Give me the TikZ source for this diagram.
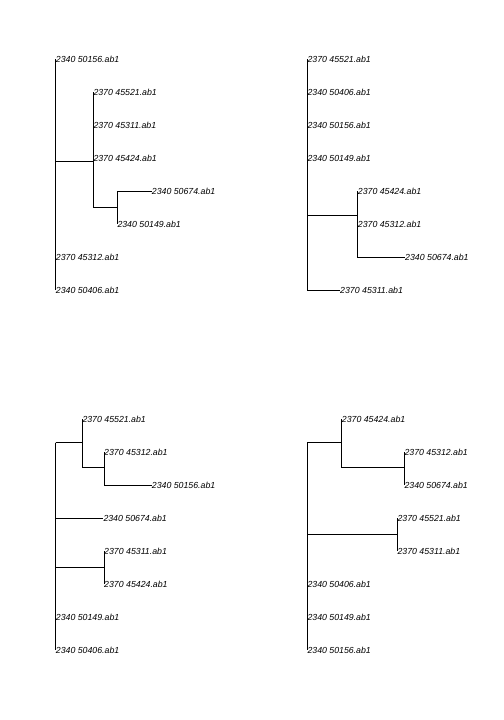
\documentclass[tikz,border=0pt]{standalone}
\usepackage{fontspec}
\setmainfont{Liberation Sans}
\begin{document}
\begin{tikzpicture}[x=1bp,y=-1bp,
  tip/.style={anchor=west, inner sep=0pt, font=\fontsize{8.8}{10}\selectfont\itshape},
  edge/.style={line width=0.7bp, black}]
\useasboundingbox (0,0) rectangle (504,720);

% ---------- tree 1 (top left) ----------
\coordinate (r1) at (55.7,161.7);
\coordinate (a1) at (93.3,161.7);
\coordinate (b1) at (117.3,207);
\node[tip] (t1a) at (55.7,59)  {2340 50156.ab1};
\node[tip] (t1b) at (93.3,92)  {2370 45521.ab1};
\node[tip] (t1c) at (93.3,125) {2370 45311.ab1};
\node[tip] (t1d) at (93.3,158) {2370 45424.ab1};
\node[tip] (t1e) at (151.7,191) {2340 50674.ab1};
\node[tip] (t1f) at (117.3,224) {2340 50149.ab1};
\node[tip] (t1g) at (55.7,257) {2370 45312.ab1};
\node[tip] (t1h) at (55.7,290) {2340 50406.ab1};
\draw[edge] (r1) |- (t1a.west);
\draw[edge] (r1) |- (t1g.west);
\draw[edge] (r1) |- (t1h.west);
\draw[edge] (r1) |- (a1);
\draw[edge] (a1) |- (t1b.west);
\draw[edge] (a1) |- (t1c.west);
\draw[edge] (a1) |- (t1d.west);
\draw[edge] (a1) |- (b1);
\draw[edge] (b1) |- (t1e.west);
\draw[edge] (b1) |- (t1f.west);

% ---------- tree 2 (top right) ----------
\coordinate (r2) at (307.3,215);
\coordinate (c2) at (357.7,215);
\node[tip] (t2a) at (307.3,59)  {2370 45521.ab1};
\node[tip] (t2b) at (307.3,92)  {2340 50406.ab1};
\node[tip] (t2c) at (307.3,125) {2340 50156.ab1};
\node[tip] (t2d) at (307.3,158) {2340 50149.ab1};
\node[tip] (t2e) at (357.7,191) {2370 45424.ab1};
\node[tip] (t2f) at (357.7,224) {2370 45312.ab1};
\node[tip] (t2g) at (405,257)   {2340 50674.ab1};
\node[tip] (t2h) at (340,290)   {2370 45311.ab1};
\draw[edge] (r2) |- (t2a.west);
\draw[edge] (r2) |- (t2b.west);
\draw[edge] (r2) |- (t2c.west);
\draw[edge] (r2) |- (t2d.west);
\draw[edge] (r2) |- (c2);
\draw[edge] (r2) |- (t2h.west);
\draw[edge] (c2) |- (t2e.west);
\draw[edge] (c2) |- (t2f.west);
\draw[edge] (c2) |- (t2g.west);

% ---------- tree 3 (bottom left) ----------
\coordinate (r3) at (55.7,442.7);
\coordinate (d3) at (82.3,442.7);
\coordinate (f3) at (104,467.3);
\coordinate (e3) at (104,567.3);
\node[tip] (t3a) at (82.3,419)  {2370 45521.ab1};
\node[tip] (t3b) at (104,452)   {2370 45312.ab1};
\node[tip] (t3c) at (151.7,485) {2340 50156.ab1};
\node[tip] (t3d) at (103.3,518) {2340 50674.ab1};
\node[tip] (t3e) at (104,551)   {2370 45311.ab1};
\node[tip] (t3f) at (104,584)   {2370 45424.ab1};
\node[tip] (t3g) at (55.7,617)  {2340 50149.ab1};
\node[tip] (t3h) at (55.7,650)  {2340 50406.ab1};
\draw[edge] (r3) |- (d3);
\draw[edge] (r3) |- (t3d.west);
\draw[edge] (r3) |- (e3);
\draw[edge] (r3) |- (t3g.west);
\draw[edge] (r3) |- (t3h.west);
\draw[edge] (d3) |- (t3a.west);
\draw[edge] (d3) |- (f3);
\draw[edge] (f3) |- (t3b.west);
\draw[edge] (f3) |- (t3c.west);
\draw[edge] (e3) |- (t3e.west);
\draw[edge] (e3) |- (t3f.west);

% ---------- tree 4 (bottom right) ----------
\coordinate (r4) at (307.3,442.7);
\coordinate (g4) at (341.7,442.7);
\coordinate (i4) at (404.3,467.3);
\coordinate (h4) at (397.3,534);
\node[tip] (t4a) at (341.7,419) {2370 45424.ab1};
\node[tip] (t4b) at (404.3,452) {2370 45312.ab1};
\node[tip] (t4c) at (404.3,485) {2340 50674.ab1};
\node[tip] (t4d) at (397.3,518) {2370 45521.ab1};
\node[tip] (t4e) at (397.3,551) {2370 45311.ab1};
\node[tip] (t4f) at (307.3,584) {2340 50406.ab1};
\node[tip] (t4g) at (307.3,617) {2340 50149.ab1};
\node[tip] (t4h) at (307.3,650) {2340 50156.ab1};
\draw[edge] (r4) |- (g4);
\draw[edge] (r4) |- (h4);
\draw[edge] (r4) |- (t4f.west);
\draw[edge] (r4) |- (t4g.west);
\draw[edge] (r4) |- (t4h.west);
\draw[edge] (g4) |- (t4a.west);
\draw[edge] (g4) |- (i4);
\draw[edge] (i4) |- (t4b.west);
\draw[edge] (i4) |- (t4c.west);
\draw[edge] (h4) |- (t4d.west);
\draw[edge] (h4) |- (t4e.west);
\end{tikzpicture}
\end{document}
